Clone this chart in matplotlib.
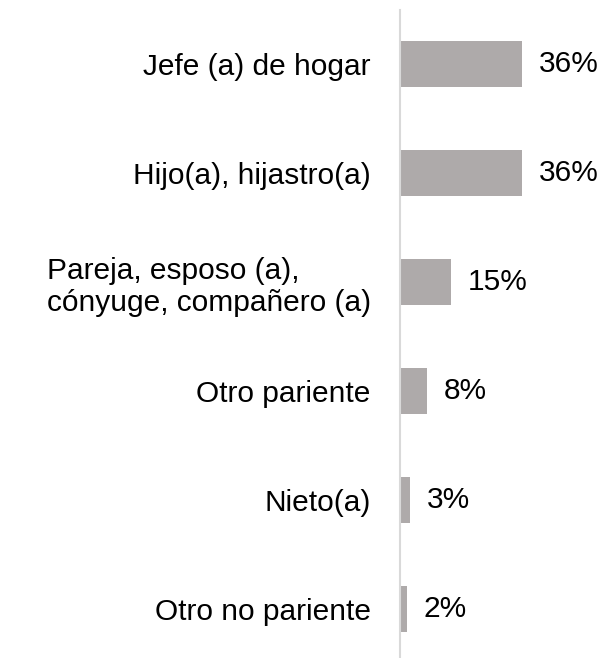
import matplotlib
matplotlib.use("Agg")
import matplotlib.pyplot as plt

plt.rcParams["font.family"] = ["Liberation Sans", "DejaVu Sans"]

categorias = ["Jefe (a) de hogar", "Hijo(a), hijastro(a)",
              "Pareja, esposo (a),\ncónyuge, compañero (a)",
              "Otro pariente", "Nieto(a)", "Otro no pariente"]
valores = [36, 36, 15, 8, 3, 2]

fig = plt.figure(figsize=(6.04, 6.58), dpi=100)
# el eje llega hasta abajo, como en el original
ax = fig.add_axes([0.662, -0.0085, 0.338, 0.994])

y = list(range(len(categorias)))
ax.barh(y, valores, height=0.42, color="#aeaaaa")
ax.set_ylim(len(categorias) - 0.5, -0.5)
ax.set_xlim(0, 60)

for yi, v in zip(y, valores):
    ax.annotate(f"{v}%", xy=(v, yi), xytext=(12, 0), textcoords="offset points",
                va="center", ha="left", fontsize=21.5, color="black")

ax.set_yticks(y)
ax.set_yticklabels(categorias, fontsize=21.5, ha="right", multialignment="left",
                   linespacing=1.2)
ax.tick_params(axis="y", length=0, pad=21)
ax.set_xticks([])
for s in ["top", "right", "bottom"]:
    ax.spines[s].set_visible(False)
ax.spines["left"].set_color("#d9d9d9")
ax.spines["left"].set_linewidth(1.5)

fig.savefig("out.png", dpi=100)
